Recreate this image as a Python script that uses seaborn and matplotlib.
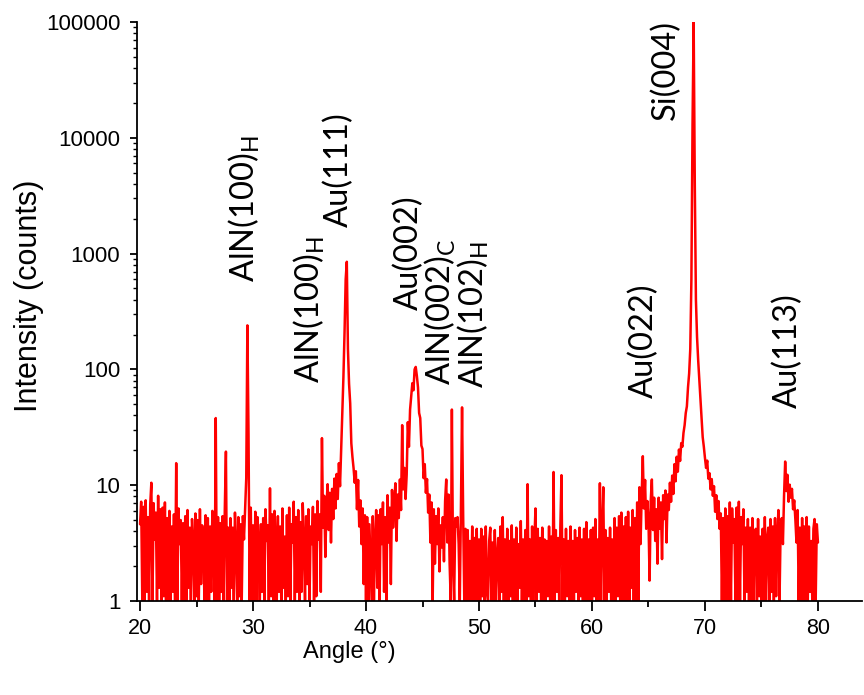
import numpy as np
import pandas as pd
import matplotlib
matplotlib.use("Agg")
import matplotlib.pyplot as plt
from matplotlib.ticker import FixedLocator, FixedFormatter, LogLocator, NullFormatter
import seaborn as sns

# ---- data: XRD scan, 0.1 degree step from 20.0 to 80.0 ----
angle_start, angle_step = 20.0, 0.1
counts_20_30 = [4.6, 7.2, 1.0, 6.5, 1.0, 7.4, 1.2, 5.3, 1.0, 6.8,
                10.5, 1.0, 7.0, 3.4, 5.8, 1.0, 8.1, 1.3, 6.2, 1.0,
                6.4, 1.1, 7.1, 1.0, 5.2, 1.0, 6.0, 1.0, 4.4, 1.2,
                5.6, 1.0, 15.5, 1.0, 6.3, 3.1, 5.0, 1.0, 4.7, 1.0,
                5.4, 1.0, 6.1, 1.3, 4.3, 1.0, 5.1, 3.2, 1.0, 5.7,
                1.1, 5.0, 1.0, 6.2, 1.4, 4.5, 3.4, 1.0, 5.5, 1.0,
                5.2, 1.0, 4.4, 1.2, 6.0, 3.3, 1.0, 38, 1.0, 5.3,
                1.0, 4.7, 1.2, 5.4, 1.0, 6.1, 19.5, 1.0, 4.3, 1.0,
                5.2, 1.3, 4.3, 1.0, 5.8, 3.2, 1.0, 5.3, 1.1, 4.6,
                1.0, 5.4, 3.4, 6.3, 11.5, 240, 28, 1.0, 6.4, 1.0]
counts_30_40 = [4.5, 1.0, 5.9, 1.0, 5.3, 3.0, 1.0, 4.6, 1.2, 5.2,
                1.0, 6.2, 3.3, 4.5, 1.0, 9.4, 1.1, 5.6, 1.0, 6.0,
                3.1, 1.0, 5.4, 1.2, 4.4, 1.0, 6.3, 1.3, 3.6, 1.0,
                5.5, 1.1, 6.4, 1.0, 4.6, 3.2, 7.2, 1.0, 5.3, 1.2,
                6.1, 1.0, 4.8, 1.2, 7.0, 3.3, 1.0, 5.4, 1.4, 6.2,
                1.0, 4.4, 3.1, 6.5, 1.0, 5.6, 1.1, 7.3, 3.4, 5.6,
                1.2, 25.5, 4.3, 8.1, 2.4, 6.6, 10.2, 4.1, 8.6, 3.2,
                9.3, 5.1, 11.4, 6.3, 12.5, 7.6, 15.5, 9.8, 20.5, 42,
                86, 210, 600, 850, 150, 75, 51, 23, 17.5, 14,
                10.5, 13.2, 6.2, 11.1, 4.4, 7.4, 3.1, 6.3, 1.4, 5.5]
counts_40_50 = [1.0, 5.3, 1.0, 4.6, 2.2, 1.0, 5.4, 1.0, 3.3, 6.1,
                1.3, 5.5, 1.0, 6.2, 3.1, 7.1, 1.2, 5.3, 1.0, 8.2,
                3.2, 6.4, 1.4, 9.1, 4.3, 7.2, 10.4, 3.3, 8.3, 5.2,
                11.2, 6.1, 33, 9.2, 14.1, 7.6, 12.3, 35, 21.5, 45,
                58, 76, 66, 100, 105, 88, 70, 42, 38, 22,
                20.5, 11.5, 15.2, 8.6, 11.3, 5.8, 8.3, 3.2, 7.1, 1.0,
                6.2, 2.1, 5.4, 3.1, 6.3, 1.8, 4.5, 2.9, 5.3, 2.2,
                7.3, 11.2, 3.2, 8.3, 2.1, 1.0, 45, 2.2, 1.0, 5.2,
                4.4, 5.3, 3.1, 1.0, 6.2, 47, 5.3, 1.0, 4.2, 1.0,
                4.1, 1.0, 3.3, 1.0, 4.4, 1.0, 3.5, 1.0, 4.2, 1.0]
counts_50_60 = [3.4, 1.0, 4.2, 1.1, 3.6, 1.0, 4.4, 1.2, 1.0, 3.3,
                4.3, 1.0, 3.2, 1.0, 4.1, 1.0, 2.4, 3.5, 1.0, 4.4,
                1.2, 5.3, 1.0, 3.4, 1.0, 4.2, 1.0, 3.3, 1.1, 4.5,
                1.0, 3.4, 1.0, 4.3, 1.0, 3.1, 1.3, 4.9, 1.0, 3.4,
                1.0, 4.1, 1.0, 10.2, 1.1, 3.4, 1.0, 4.4, 1.0, 3.3,
                6.3, 1.0, 4.2, 1.2, 3.5, 1.0, 4.3, 1.0, 3.4, 1.0,
                3.3, 1.1, 4.4, 1.0, 3.6, 1.0, 13, 1.0, 4.1, 1.2,
                3.5, 1.0, 4.3, 12.2, 1.0, 3.4, 1.0, 4.2, 1.1, 3.3,
                1.0, 4.4, 1.0, 3.3, 1.0, 4.1, 1.2, 3.5, 1.0, 4.3,
                1.1, 3.4, 1.0, 4.2, 1.0, 4.8, 1.0, 3.4, 1.0, 4.1]
counts_60_70 = [1.0, 4.3, 1.1, 5.1, 1.0, 3.4, 1.0, 10.4, 1.0, 4.2,
                9.6, 1.0, 4.1, 1.0, 3.5, 1.2, 4.3, 1.0, 3.4, 1.0,
                5.2, 1.0, 4.3, 1.1, 5.4, 1.0, 5.8, 1.0, 4.4, 1.0,
                5.3, 1.0, 5.9, 1.0, 4.3, 1.3, 6.1, 1.0, 5.2, 1.0,
                7.1, 1.0, 9.6, 3.1, 8.2, 17.8, 6.3, 11.1, 4.2, 7.3,
                5.1, 1.5, 7.3, 11.2, 4.1, 7.8, 3.3, 6.2, 2.1, 7.8,
                4.2, 7.1, 2.3, 8.2, 5.1, 9.0, 3.2, 8.3, 6.1, 10.5,
                7.2, 12.1, 8.4, 15.2, 10.8, 17.6, 13.1, 20.3, 16.2, 23.1,
                21.5, 28.3, 33.0, 42.0, 48.0, 70.0, 92.0, 150, 600, 12900,
                100000, 4000, 400, 190, 120, 81, 55, 38, 26, 21.5]
counts_70_80 = [17.2, 14.1, 16.3, 11.4, 12.7, 9.2, 11.3, 8.1, 9.8, 5.9,
                8.2, 5.1, 7.3, 4.2, 5.7, 1.0, 5.2, 1.0, 6.3, 1.0,
                5.4, 1.0, 7.1, 1.0, 6.3, 3.2, 5.1, 1.0, 6.4, 1.0,
                7.2, 1.0, 5.3, 3.1, 6.2, 1.0, 4.3, 1.2, 5.1, 1.0,
                4.3, 1.0, 5.2, 1.0, 3.4, 4.2, 1.0, 5.1, 1.1, 3.6,
                1.0, 4.2, 1.0, 5.3, 1.0, 3.4, 4.3, 1.0, 5.1, 1.2,
                4.4, 1.0, 5.2, 1.1, 3.5, 6.1, 1.0, 4.4, 5.2, 3.1,
                8.1, 16, 8.9, 12.3, 7.2, 10.1, 7.8, 9.3, 6.2, 7.4,
                5.1, 3.2, 6.1, 1.0, 4.3, 1.0, 5.2, 1.0, 4.4, 1.0,
                5.3, 1.0, 4.4, 1.2, 3.3, 1.0, 4.2, 5.1, 1.0, 4.6,
                3.2]

peak_labels = ["AlN(100)$_\\mathrm{H}$", "AlN(100)$_\\mathrm{H}$", "Au(111)", "Au(002)",
               "AlN(002)$_\\mathrm{C}$", "AlN(102)$_\\mathrm{H}$", "Au(022)", "Si(004)", "Au(113)"]
label_angle = [29.2, 35.0, 37.6, 43.8, 46.6, 49.55, 64.6, 66.5, 77.35]
label_count = [569, 76, 1700, 326, 73, 69, 57, 14250, 46]

xticks = [20, 30, 40, 50, 60, 70, 80]
xtick_labels = ["20", "30", "40", "50", "60", "70", "80"]
yticks = [1, 10, 100, 1000, 10000, 100000]
ytick_labels = ["1", "10", "100", "1000", "10000", "100000"]

counts = counts_20_30 + counts_30_40 + counts_40_50 + counts_50_60 + counts_60_70 + counts_70_80
angle = angle_start + angle_step * np.arange(len(counts))
df = pd.DataFrame({"Angle": angle, "Intensity": counts})

# ---- style ----
sns.set_style("ticks")
plt.rcParams["font.family"] = ["Liberation Sans", "DejaVu Sans"]
plt.rcParams["mathtext.fontset"] = "custom"
plt.rcParams["mathtext.rm"] = "Lato"
plt.rcParams["mathtext.it"] = "Lato:italic"
plt.rcParams["mathtext.bf"] = "Lato:bold"

fig = plt.figure(figsize=(8.64, 6.95), dpi=100)
ax = fig.add_axes([137 / 864, 1 - 601 / 695, 725 / 864, 579 / 695])

sns.lineplot(data=df, x="Angle", y="Intensity", ax=ax, color="#ff0000",
             linewidth=1.8, estimator=None, sort=False)

ax.set_yscale("log")
ax.set_ylim(1, 100000)
ax.set_xlim(19.73, 83.9)

ax.xaxis.set_major_locator(FixedLocator(xticks))
ax.xaxis.set_major_formatter(FixedFormatter(xtick_labels))
ax.xaxis.set_minor_locator(FixedLocator([25, 35, 45, 55, 65, 75, 85]))
ax.yaxis.set_major_locator(FixedLocator(yticks))
ax.yaxis.set_major_formatter(FixedFormatter(ytick_labels))
ax.yaxis.set_minor_locator(LogLocator(base=10, subs=np.arange(2, 10)))
ax.yaxis.set_minor_formatter(NullFormatter())

for s in ["top", "right"]:
    ax.spines[s].set_visible(False)
for s in ["left", "bottom"]:
    ax.spines[s].set_linewidth(1.3)
    ax.spines[s].set_color("black")

ax.tick_params(axis="x", which="major", direction="out", length=7, width=1.3, pad=5,
               labelsize=15.5, colors="black")
ax.tick_params(axis="x", which="minor", direction="out", length=4, width=1.3, colors="black")
ax.tick_params(axis="y", which="major", direction="out", length=5, width=1.3, pad=7,
               labelsize=16, colors="black")
ax.tick_params(axis="y", which="minor", direction="out", length=3, width=1.0, colors="black")

ax.set_xlabel("Angle (°)", fontsize=17, color="black")
ax.xaxis.set_label_coords((349 - 137) / 725, (601 - 641) / 579)
ax.set_ylabel("Intensity (counts)", fontsize=22, color="black")
ax.yaxis.set_label_coords((44 - 137) / 725, (601 - 296) / 579)

for lab, xa, yc in zip(peak_labels, label_angle, label_count):
    ax.text(xa, yc, lab, rotation=90, ha="center", va="bottom",
            fontsize=23.5, family=["Lato", "DejaVu Sans"], color="black")

fig.savefig("out.png", dpi=100)
